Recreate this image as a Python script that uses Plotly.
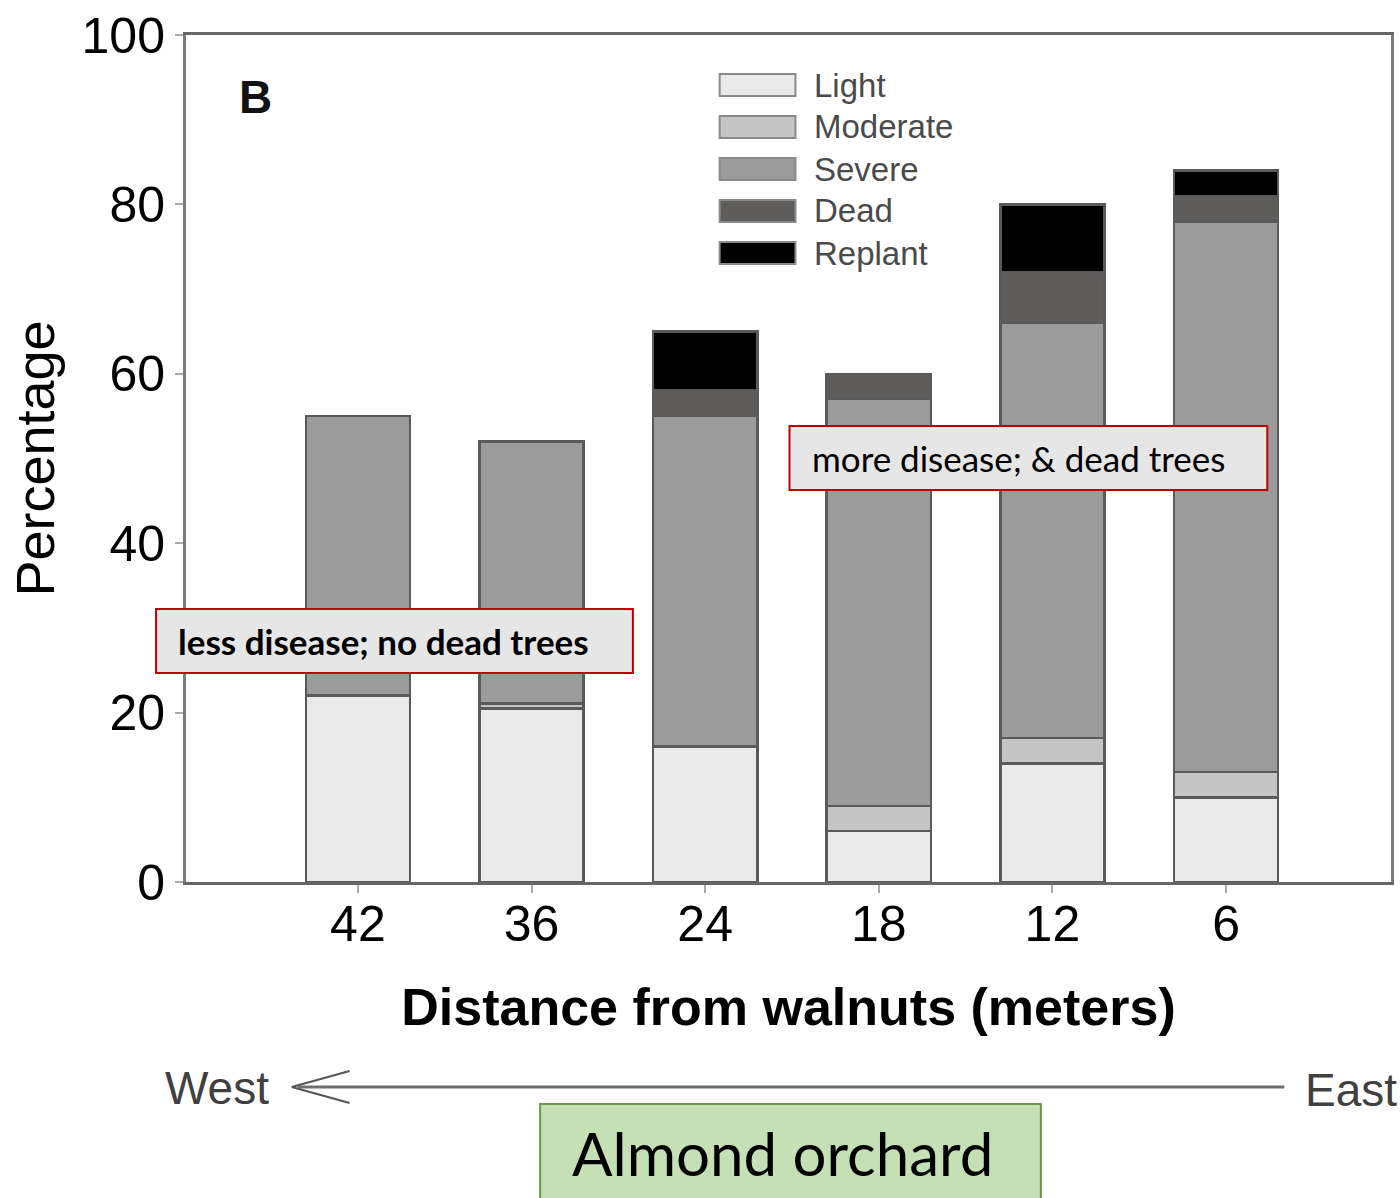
import plotly.graph_objects as go

# Distance classes (m) west -> east, and stacked percentages per damage class
distances = ["42", "36", "24", "18", "12", "6"]
light = [22, 20.5, 16, 6, 14, 10]
moderate = [0, 0.6, 0, 3, 3, 3]
severe = [33, 30.9, 39, 48, 49, 65]
dead = [0, 0, 3, 3, 6, 3]
replant = [0, 0, 7, 0, 8, 3]

series_names = ["Light", "Moderate", "Severe", "Dead", "Replant"]
series_values = [light, moderate, severe, dead, replant]
series_colors = ["#e9e9e9", "#c4c4c4", "#9c9b9b", "#5f5d5b", "#000000"]

y_ticks = [0, 20, 40, 60, 80, 100]

W, H = 1400, 1198
L, R, T, B = 186, 6, 35, 316
PW, PH = W - L - R, H - T - B


def px(x):
    return (x - L) / PW


def py(y):
    return (H - B - y) / PH


fig = go.Figure()
for name, vals, col in zip(series_names, series_values, series_colors):
    fig.add_trace(go.Bar(
        x=distances, y=vals, name=name, width=0.6,
        marker=dict(color=col, line=dict(color="#5a5a5a", width=2.5)),
        showlegend=False,
    ))

shapes = []
annotations = []

# legend block
for i, (name, col) in enumerate(zip(series_names, series_colors)):
    yc = 85 + i * 42
    shapes.append(dict(type="rect", xref="paper", yref="paper",
                       x0=px(721), x1=px(797), y0=py(yc - 11), y1=py(yc + 11),
                       fillcolor=col, line=dict(color="#8a8a8a", width=2)))
    annotations.append(dict(xref="paper", yref="paper", x=px(814), y=py(yc),
                            xanchor="left", yanchor="middle", showarrow=False,
                            text=name, font=dict(family="Liberation Sans", size=33, color="#4a4a4a")))

# panel letter
annotations.append(dict(xref="paper", yref="paper", x=px(256), y=py(97),
                        xanchor="center", yanchor="middle", showarrow=False,
                        text="<b>B</b>", font=dict(family="Liberation Sans", size=46, color="#111")))

# callout boxes
boxes = [
    (156, 634, 609, 673, "<b>less disease; no dead trees</b>", 176),
    (791, 1270, 426, 490, "more disease; &amp; dead trees", 812),
]
for x0, x1, y0, y1, txt, tx in boxes:
    shapes.append(dict(type="rect", xref="paper", yref="paper",
                       x0=px(x0), x1=px(x1), y0=py(y1), y1=py(y0),
                       fillcolor="#e7e6e6", line=dict(color="#c00000", width=2)))
    annotations.append(dict(xref="paper", yref="paper", x=px(tx), y=py((y0 + y1) / 2),
                            xanchor="left", yanchor="middle", showarrow=False,
                            text=txt, font=dict(family="Lato", size=35, color="#000")))

# West <-> East direction arrow
shapes.append(dict(type="line", xref="paper", yref="paper",
                   x0=px(298), x1=px(1287), y0=py(1087), y1=py(1087),
                   line=dict(color="#6e6e6e", width=3)))
for yy in (1071, 1103):
    shapes.append(dict(type="line", xref="paper", yref="paper",
                       x0=px(292), x1=px(350), y0=py(1087), y1=py(yy),
                       line=dict(color="#555", width=2)))
annotations.append(dict(xref="paper", yref="paper", x=px(163), y=py(1088),
                        xanchor="left", yanchor="middle", showarrow=False,
                        text="West", font=dict(family="Liberation Sans", size=46, color="#404040")))
annotations.append(dict(xref="paper", yref="paper", x=px(1306), y=py(1090),
                        xanchor="left", yanchor="middle", showarrow=False,
                        text="East", font=dict(family="Liberation Sans", size=46, color="#404040")))

# orchard label
shapes.append(dict(type="rect", xref="paper", yref="paper",
                   x0=px(541), x1=px(1043), y0=py(1204), y1=py(1104),
                   fillcolor="#c5e0b4", line=dict(color="#6a9a48", width=2)))
annotations.append(dict(xref="paper", yref="paper", x=px(784), y=py(1153),
                        xanchor="center", yanchor="middle", showarrow=False,
                        text="Almond orchard", font=dict(family="Lato", size=60, color="#000")))

fig.update_layout(
    width=W, height=H, autosize=False,
    margin=dict(l=L, r=R, t=T, b=B, pad=0),
    paper_bgcolor="white", plot_bgcolor="white",
    barmode="stack", bargap=0.4,
    shapes=shapes, annotations=annotations,
    font=dict(family="Liberation Sans", color="#000"),
    xaxis=dict(
        type="category", categoryorder="array", categoryarray=distances,
        range=[-0.99, 5.95],
        showline=True, linecolor="#666", linewidth=3, mirror=True,
        ticks="outside", ticklen=8, tickwidth=2, tickcolor="#aaa",
        ticklabelstandoff=-12,
        tickfont=dict(size=50, color="#000"),
        showgrid=False, zeroline=False,
        title=dict(text="<b>Distance from walnuts (meters)</b>",
                   font=dict(size=52, color="#000"), standoff=38),
    ),
    yaxis=dict(
        range=[0, 100], tickvals=y_ticks,
        showline=True, linecolor="#7a7a7a", linewidth=3, mirror=True,
        ticks="outside", ticklen=8, tickwidth=2, tickcolor="#aaa",
        tickfont=dict(size=50, color="#000"),
        showgrid=False, zeroline=False,
        title=dict(text="Percentage", font=dict(size=54, color="#000"), standoff=10),
    ),
)

fig.write_html("out.html")
